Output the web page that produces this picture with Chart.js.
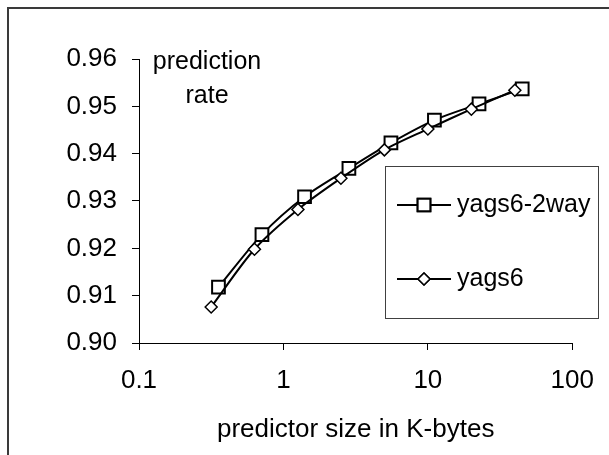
<!DOCTYPE html>
<html>
<head>
<meta charset="utf-8">
<script src="https://cdn.jsdelivr.net/npm/chart.js@4/dist/chart.umd.min.js"></script>
<style>
  body { margin: 0; background: #fff; }
  canvas { display: block; }
</style>
</head>
<body>
<canvas id="chart" width="609" height="455"></canvas>
<script>
// values
const sizes2way = [0.355, 0.71, 1.4, 2.84, 5.55, 11.1, 22.6, 45];
const rate2way = [0.9118, 0.9229, 0.9309, 0.9369, 0.9423, 0.9471, 0.9505, 0.9537];
const sizes6 = [0.316, 0.63, 1.26, 2.5, 5.0, 10.0, 20.0, 40.0];
const rate6 = [0.9076, 0.9198, 0.9282, 0.9348, 0.9408, 0.9452, 0.9494, 0.9534];
const xTicks = [0.1, 1, 10, 100];
const seriesNames = ["yags6-2way", "yags6"];
const yLabel = ["prediction", "rate"];
const xTitle = "predictor size in K-bytes";

const FONT = "'Liberation Sans', Arial, sans-serif";

const toPoints = (xs, ys) => xs.map((x, i) => ({ x, y: ys[i] }));

// outer frame (only left and top edges are inside the picture)
const framePlugin = {
  id: "frame",
  beforeDraw(chart) {
    const ctx = chart.ctx;
    ctx.save();
    ctx.strokeStyle = "#3a3a3a";
    ctx.lineWidth = 2;
    ctx.beginPath();
    ctx.moveTo(8, chart.height + 2);
    ctx.lineTo(8, 8);
    ctx.lineTo(chart.width + 2, 8);
    ctx.stroke();
    ctx.restore();
  },
};

// "prediction rate" label and the boxed legend
const labelsPlugin = {
  id: "labels",
  afterDraw(chart) {
    const ctx = chart.ctx;
    ctx.save();
    ctx.fillStyle = "#000";
    ctx.font = `25px ${FONT}`;
    ctx.textAlign = "center";
    ctx.textBaseline = "middle";
    ctx.fillText(yLabel[0], 207, 62);
    ctx.fillText(yLabel[1], 207, 96);

    // legend box
    ctx.strokeStyle = "#404040";
    ctx.lineWidth = 1;
    ctx.strokeRect(385.5, 166.5, 213, 152);

    const rows = [205, 279];
    chart.data.datasets.forEach((ds, i) => {
      const y = rows[i];
      ctx.strokeStyle = "#000";
      ctx.lineWidth = 2;
      ctx.beginPath();
      ctx.moveTo(397, y);
      ctx.lineTo(451, y);
      ctx.stroke();
      ctx.fillStyle = "#fff";
      ctx.lineWidth = ds.pointBorderWidth;
      Chart.helpers.drawPoint(ctx, { pointStyle: ds.pointStyle, radius: ds.pointRadius, borderWidth: ds.pointBorderWidth }, 424, y);
      ctx.fill();
      ctx.stroke();
      ctx.fillStyle = "#000";
      ctx.textAlign = "left";
      ctx.font = `25px ${FONT}`;
      ctx.fillText(ds.label, 457, y);
    });
    ctx.restore();
  },
};

new Chart(document.getElementById("chart"), {
  type: "line",
  data: {
    datasets: [
      {
        label: seriesNames[0],
        data: toPoints(sizes2way, rate2way),
        borderColor: "#000",
        borderWidth: 2,
        pointStyle: "rect",
        pointRadius: 9,
        pointBorderWidth: 2,
        pointBackgroundColor: "#fff",
        pointBorderColor: "#000",
        tension: 0.3,
        order: 1,
      },
      {
        label: seriesNames[1],
        data: toPoints(sizes6, rate6),
        borderColor: "#000",
        borderWidth: 2,
        pointStyle: "rectRot",
        pointRadius: 6,
        pointBorderWidth: 1.5,
        pointBackgroundColor: "#fff",
        pointBorderColor: "#000",
        tension: 0.3,
        order: 0,
      },
    ],
  },
  options: {
    responsive: false,
    animation: false,
    events: [],
    layout: { padding: { top: 59, right: 24, left: 0, bottom: 0 } },
    plugins: { legend: { display: false }, tooltip: { enabled: false } },
    scales: {
      x: {
        type: "logarithmic",
        min: 0.1,
        max: 100,
        afterBuildTicks: (scale) => {
          scale.ticks = xTicks.map((v) => ({ value: v }));
        },
        afterFit: (scale) => { scale.height = 112; },
        ticks: {
          color: "#000",
          font: { family: FONT, size: 26 },
          padding: 15,
          maxRotation: 0,
          autoSkip: false,
          callback: (v) => String(v),
        },
        grid: { drawOnChartArea: false, drawTicks: true, tickLength: 7, color: "#000" },
        border: { color: "#000", width: 1 },
        title: {
          display: true,
          text: xTitle,
          color: "#000",
          font: { family: FONT, size: 26 },
          padding: { top: 0, bottom: 10 },
        },
      },
      y: {
        min: 0.9,
        max: 0.96,
        afterFit: (scale) => { scale.width = 139; },
        ticks: {
          stepSize: 0.01,
          color: "#000",
          font: { family: FONT, size: 26 },
          padding: 15,
          callback: (v) => v.toFixed(2),
        },
        grid: { drawOnChartArea: false, drawTicks: true, tickLength: 7, color: "#000" },
        border: { color: "#000", width: 1 },
      },
    },
  },
  plugins: [framePlugin, labelsPlugin],
});
</script>
</body>
</html>
